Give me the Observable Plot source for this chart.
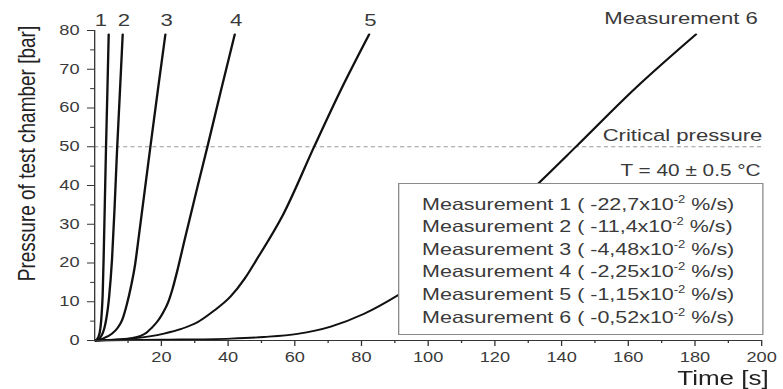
<!DOCTYPE html>
<html><head><meta charset="utf-8">
<script src="https://cdn.jsdelivr.net/npm/d3@7"></script>
<script src="https://cdn.jsdelivr.net/npm/@observablehq/plot@0.6"></script>
<style>
html,body{margin:0;padding:0;background:#fff;overflow:hidden}
#wrap{position:absolute;left:0;top:0;width:602px;height:389px;transform-origin:0 0;transform:scaleX(1.3007)}
#legend{position:absolute;left:306px;top:183px;width:280.6px;height:152px;box-sizing:border-box;border:1px solid #8a8a8a;background:#fff;padding:8.6px 0 0 17.5px;font:16.5px "Liberation Sans",Arial,sans-serif;color:#3a3a3a;white-space:nowrap}
#legend .row{height:22.6px;line-height:22.6px;overflow:visible}
.sup{font-size:10px;line-height:0;position:relative;top:-7px}
</style></head><body><div id="wrap"></div>
<script>
// Measured curves: time [s] and pressure [bar]
const time1 = [0.2, 0.7, 1.1, 1.5, 1.8, 2.1, 2.4, 2.7, 3.05, 3.4, 3.8, 4.2];
const pres1 = [0, 0.3, 0.9, 2, 3.8, 7, 12, 22, 36, 50, 64, 79];
const time2 = [0.3, 1.5, 2.2, 2.9, 3.4, 3.9, 4.3, 4.8, 5.2, 6.0, 6.7, 7.5, 8.4];
const pres2 = [0, 0.6, 1.5, 3.2, 5.2, 8, 11, 16, 21, 35, 49, 63, 79];
const time3 = [0.3, 2.7, 5.2, 7, 8.2, 9.7, 10.9, 12.1, 13.1, 14.6, 16.7, 19, 21.2];
const pres3 = [0, 0.6, 1.8, 3.4, 5.2, 9.5, 14, 19.5, 26, 36, 50, 65, 79];
const time4 = [0.3, 7, 11, 13.8, 15.5, 17, 18.7, 20.3, 22, 23.3, 25, 26.8, 30.8, 33.8, 38, 42];
const pres4 = [0, 0.3, 0.6, 1.2, 2.0, 3.2, 4.8, 6.9, 9.8, 13.2, 18.8, 25.4, 39.6, 50, 65, 79];
const time5 = [0.3, 10.8, 20.8, 26, 30.8, 35.5, 40.8, 45, 49, 56.5, 65.8, 74, 82.3];
const pres5 = [0, 0.5, 1.8, 3.0, 4.7, 7.5, 11.4, 16, 21.5, 32.5, 50, 65, 79];
const time6 = [0.3, 20, 40.8, 50.8, 60.8, 70.8, 80.8, 90.8, 105, 120, 133, 144.3, 162, 180.3];
const pres6 = [0, 0.2, 0.5, 0.9, 1.7, 3.6, 6.9, 11.6, 20, 30, 40.5, 50, 65, 79];

const curveLabels = ["1", "2", "3", "4", "5", "Measurement 6"];
const legendNames = ["Measurement 1", "Measurement 2", "Measurement 3", "Measurement 4", "Measurement 5", "Measurement 6"];
const legendRates = ["-22,7", "-11,4", "-4,48", "-2,25", "-1,15", "-0,52"];
const criticalPressure = 50;
const criticalLabel = "Critical pressure";
const temperatureLabel = "T = 40 \u00B1 0.5 \u00B0C";
const xMajor = [20, 40, 60, 80, 100, 120, 140, 160, 180, 200];
const xMinor = [10, 30, 50, 70, 90, 110, 130, 150, 170, 190];
const yMajor = [0, 10, 20, 30, 40, 50, 60, 70, 80];
const yMinor = [5, 15, 25, 35, 45, 55, 65, 75];
const xTitle = "Time [s]";
const yTitle = "Pressure of test chamber [bar]";

const times = [time1, time2, time3, time4, time5, time6];
const pressures = [pres1, pres2, pres3, pres4, pres5, pres6];
const rows = [];
const ends = [];
times.forEach((ts, i) => {
  ts.forEach((t, j) => rows.push({m: i + 1, t, p: pressures[i][j]}));
  ends.push({m: i + 1, t: ts[ts.length - 1], p: pressures[i][ts.length - 1], label: curveLabels[i]});
});

const font = '"Liberation Sans", Arial, sans-serif';
const ink = "#3a3a3a";

const chart = Plot.plot({
  width: 602, height: 389,
  marginLeft: 72.3, marginRight: 16.9, marginTop: 30, marginBottom: 49,
  x: {domain: [0, 200], label: null},
  y: {domain: [0, 80], label: null},
  style: {fontFamily: font, color: ink, background: "white", overflow: "visible"},
  marks: [
    Plot.ruleY([criticalPressure], {stroke: "#9a9a9a", strokeDasharray: "3.2,2.4", strokeWidth: 1}),
    Plot.line(rows, {x: "t", y: "p", z: "m", stroke: "#111", strokeWidth: 1.8, curve: "monotone-x"}),
    Plot.ruleX([0], {stroke: "#333", strokeWidth: 1}),
    Plot.ruleY([0], {stroke: "#333", strokeWidth: 1}),
    Plot.axisX(xMajor, {tickSize: 6, tickPadding: 5.7, fontSize: 14, stroke: "#333", fill: ink, label: null}),
    Plot.axisX(xMinor, {tickSize: 3, tickFormat: () => "", stroke: "#333", label: null}),
    Plot.axisY(yMajor, {tickSize: 5.4, tickPadding: 6.2, fontSize: 14, stroke: "#333", fill: ink, label: null}),
    Plot.axisY(yMinor, {tickSize: 3, tickFormat: () => "", stroke: "#333", label: null}),
    Plot.text(ends.filter(d => d.m === 1), {x: "t", y: "p", text: "label", dy: -14, dx: -6, fontSize: 17, fill: ink}),
    Plot.text(ends.filter(d => d.m > 1 && d.m < 6), {x: "t", y: "p", text: "label", dy: -14, dx: 1, fontSize: 17, fill: ink}),
    Plot.text(ends.filter(d => d.m === 6), {x: "t", y: "p", text: "label", dy: -16, dx: -11.5, fontSize: 17, fill: ink}),
    Plot.text([criticalPressure], {y: d => d, text: () => criticalLabel, frameAnchor: "right", textAnchor: "end", dx: 0.5, dy: -11, fontSize: 17, fill: ink}),
    Plot.text([criticalPressure], {y: d => d, text: () => temperatureLabel, frameAnchor: "right", textAnchor: "end", dx: -0.8, dy: 24, fontSize: 16, fill: ink}),
    Plot.text([xTitle], {frameAnchor: "bottom-right", textAnchor: "end", dx: 5.4, dy: 44, fontSize: 20, fill: "#222"}),
    Plot.text([yTitle], {frameAnchor: "left", textAnchor: "middle", rotate: -90, dx: -52.3, dy: -32, fontSize: 19, fill: "#222"})
  ]
});

const wrap = document.getElementById("wrap");
wrap.appendChild(chart);
const legend = document.createElement("div");
legend.id = "legend";
legend.innerHTML = legendNames.map((n, i) =>
  `<div class="row">${n} ( ${legendRates[i]}x10<span class="sup">-2</span> %/s)</div>`).join("");
wrap.appendChild(legend);
</script></body></html>
